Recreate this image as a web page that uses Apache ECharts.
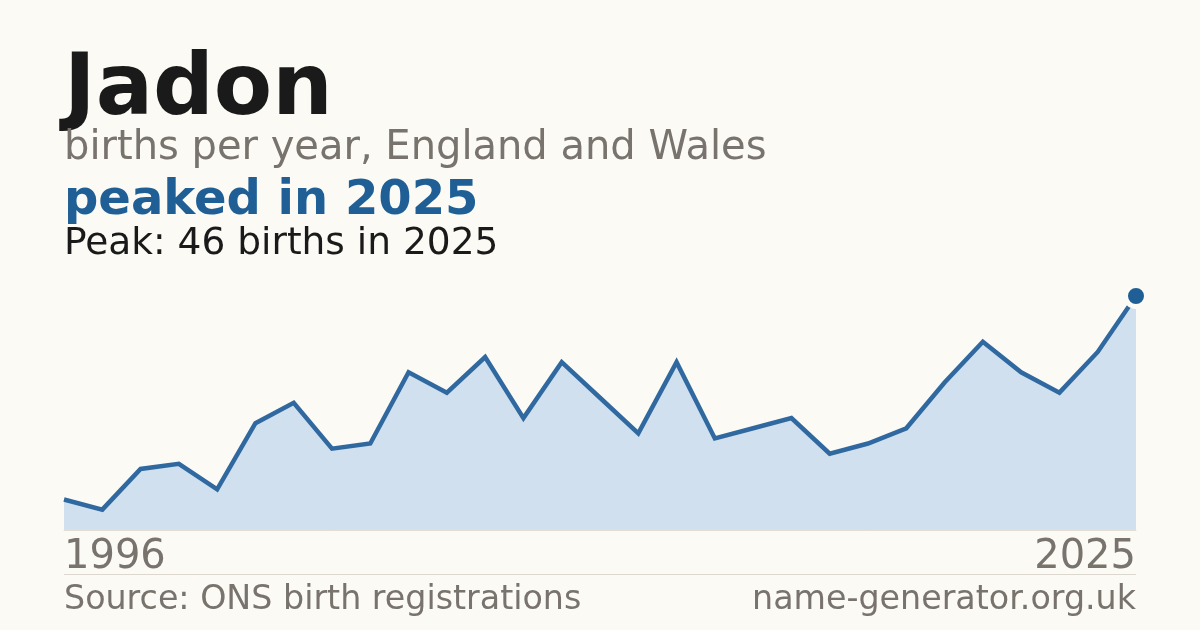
<!DOCTYPE html>
<html>
<head>
<meta charset="utf-8">
<script src="https://cdn.jsdelivr.net/npm/echarts@6/dist/echarts.min.js"></script>
<style>
  html, body { margin: 0; padding: 0; background: #fbfaf5; }
  #chart { width: 1200px; height: 630px; }
</style>
</head>
<body>
<div id="chart"></div>
<script>
// Jadon — births per year, England and Wales (ONS). One point per registered year.
const YEARS = [
  '1996', '1997', '1998', '1999', '2000', '2001', '2002', '2003', '2004', '2005',
  '2006', '2007', '2008', '2009', '2010', '2011', '2012', '2013', '2014', '2015',
  '2016', '2017', '2018', '2019', '2020', '2021', '2022', '2023', '2025',
];
const BIRTHS = [
  6, 4, 12, 13, 8, 21, 25, 16, 17, 31,
  27, 34, 22, 33, 26, 19, 33, 18, 20, 22,
  15, 17, 20, 29, 37, 31, 27, 35, 46,
];
const TICK_LABELS = ['1996', '2025'];

const FONT = "'DejaVu Sans', sans-serif";
const BG = '#fbfaf5';
const GREY = '#78736c';
const BLUE = '#1f5f95';

const peakIdx = BIRTHS.indexOf(Math.max(...BIRTHS));
const last = YEARS.length - 1;

const chart = echarts.init(document.getElementById('chart'), null, { renderer: 'canvas' });

chart.setOption({
  backgroundColor: BG,
  animation: false,
  grid: { left: 64, right: 64, top: 296, bottom: 100 },
  xAxis: {
    type: 'category',
    data: YEARS,
    boundaryGap: false,
    axisLine: { show: true, lineStyle: { color: '#e2ded6', width: 1 } },
    axisTick: { show: false },
    splitLine: { show: false },
    axisLabel: {
      interval: 0,
      margin: 8,
      color: GREY,
      fontFamily: FONT,
      fontSize: 40,
      lineHeight: 40,
      alignMinLabel: 'left',
      alignMaxLabel: 'right',
      formatter: (v, i) => (i === 0 ? TICK_LABELS[0] : i === last ? TICK_LABELS[1] : ''),
    },
  },
  yAxis: {
    type: 'value',
    min: 0,
    max: BIRTHS[peakIdx],
    show: false,
    splitLine: { show: false },
  },
  series: [{
    type: 'line',
    data: BIRTHS,
    symbol: 'none',
    clip: false,
    lineStyle: { color: '#3069a0', width: 4.5, join: 'miter' },
    areaStyle: { color: '#d0e0ef', opacity: 1 },
    markPoint: {
      symbol: 'circle',
      symbolSize: 21,
      silent: true,
      label: { show: false },
      itemStyle: { color: BLUE, borderColor: BG, borderWidth: 5 },
      data: [{ coord: [peakIdx, BIRTHS[peakIdx]] }],
    },
  }],
  graphic: [
    { type: 'text', left: 64, top: 49,
      style: { text: 'Jadon', fontFamily: FONT, fontSize: 85, fontWeight: 'bold', fill: '#1a1a1a' } },
    { type: 'text', left: 64, top: 129,
      style: { text: 'births per year, England and Wales', fontFamily: FONT, fontSize: 40, fill: GREY } },
    { type: 'text', left: 64, top: 178,
      style: { text: 'peaked in ' + YEARS[peakIdx], fontFamily: FONT, fontSize: 48, fontWeight: 'bold', fill: BLUE } },
    { type: 'text', left: 64, top: 225,
      style: { text: 'Peak: ' + BIRTHS[peakIdx] + ' births in ' + YEARS[peakIdx], fontFamily: FONT, fontSize: 37.5, fill: '#1a1a1a' } },
    { type: 'line', shape: { x1: 64, y1: 574.5, x2: 1136, y2: 574.5 },
      style: { stroke: '#dcd8d0', lineWidth: 1 } },
    { type: 'text', left: 64, top: 584,
      style: { text: 'Source: ONS birth registrations', fontFamily: FONT, fontSize: 33.3, fill: GREY } },
    { type: 'text', right: 64, top: 584,
      style: { text: 'name-generator.org.uk', fontFamily: FONT, fontSize: 33.3, fill: GREY, align: 'right' } },
  ],
});
</script>
</body>
</html>
